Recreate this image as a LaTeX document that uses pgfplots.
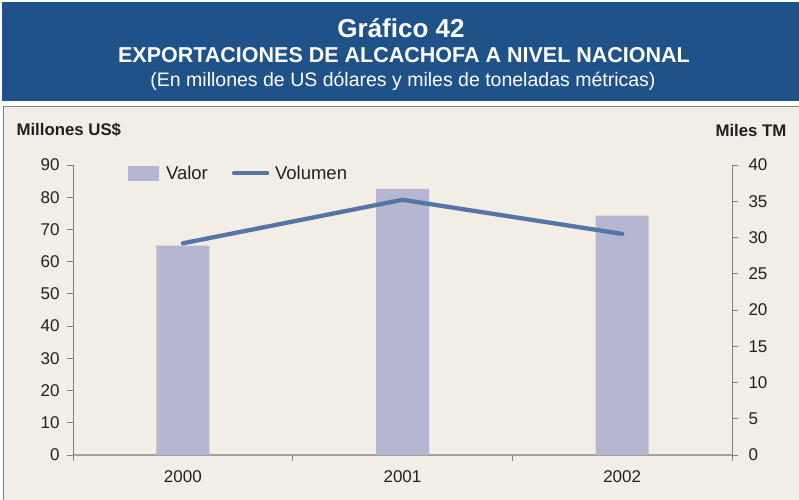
\documentclass[border=0pt]{standalone}
\usepackage{fontspec}
\setmainfont{Liberation Sans}
\usepackage{pgfplots}
\pgfplotsset{compat=1.18}
\definecolor{hdr}{RGB}{31,82,137}
\definecolor{bg}{RGB}{242,238,230}
\definecolor{barc}{RGB}{181,183,208}
\definecolor{linec}{RGB}{83,117,168}
\definecolor{axc}{RGB}{128,128,128}
\definecolor{txt}{RGB}{35,31,32}
\begin{document}
\begin{tikzpicture}[x=1pt,y=1pt]
\useasboundingbox (0,0) rectangle (799,499);
\clip (0,0) rectangle (799,499);
\fill[white] (0,0) rectangle (799,499);
\fill[hdr] (2,398) rectangle (801,497);
\filldraw[fill=bg, draw=axc, line width=1.5pt] (3.5,-5) rectangle (805,392.5);
\node[white, font=\bfseries\fontsize{26}{30}\selectfont] at (401,471) {Gráfico 42};
\node[white, font=\bfseries\fontsize{21.5}{25}\selectfont] at (404,444) {EXPORTACIONES DE ALCACHOFA A NIVEL NACIONAL};
\node[white, font=\fontsize{19.5}{23}\selectfont] at (403,418) {(En millones de US dólares y miles de toneladas métricas)};
\node[txt, anchor=west, font=\bfseries\fontsize{16.8}{19}\selectfont] at (13,369) {Millones US\$};
\node[txt, anchor=east, font=\bfseries\fontsize{16.8}{19}\selectfont] at (790,369) {Miles TM};
\begin{axis}[
  at={(73pt,44pt)}, anchor=south west, scale only axis,
  width=659pt, height=290pt,
  xmin=-0.5, xmax=2.5, ymin=0, ymax=90,
  ytick={0,10,...,90},
  axis x line*=bottom, axis y line*=left,
  axis line style={axc, line width=1pt},
  x axis line style={color=axc!75, line width=1.8pt},
  xtick={-0.5,0.5,1.5,2.5}, xticklabels={,,,},
  extra x ticks={0,1,2}, extra x tick labels={2000,2001,2002},
  extra x tick style={major tick length=0pt, xticklabel style={yshift=-12pt}},
  tick style={axc, line width=0.8pt}, major tick length=6pt,
  tick align=outside,
  ticklabel style={font=\fontsize{17}{20}\selectfont, text=txt},
  yticklabel style={xshift=-4pt},
  /pgf/number format/assume math mode=true,
]
\addplot[ybar, bar width=53pt, fill=barc, draw=none] coordinates {(0,65) (1,82.6) (2,74.3)};
\end{axis}
\begin{axis}[
  at={(73pt,44pt)}, anchor=south west, scale only axis,
  width=659pt, height=290pt,
  xmin=-0.5, xmax=2.5, ymin=0, ymax=40,
  ytick={0,5,...,40},
  axis x line=none, axis y line*=right,
  axis line style={axc, line width=1pt},
  tick style={axc, line width=0.8pt}, major tick length=6pt,
  tick align=outside,
  ticklabel style={font=\fontsize{17}{20}\selectfont, text=txt},
  yticklabel style={xshift=7pt},
  /pgf/number format/assume math mode=true,
  legend style={at={(axis description cs:0.083,0.972)}, anchor=west, draw=none, fill=none, inner sep=0pt,
    font=\fontsize{18.5}{21}\selectfont, text=txt,
    /tikz/every even column/.append style={column sep=22pt}},
  legend columns=2, legend cell align=left,
]
\addlegendimage{legend image code/.code={\fill[barc] (0pt,-7pt) rectangle (30pt,7pt); \path[draw=none,fill=none] (0pt,0pt) -- (36pt,0pt);}}
\addlegendentry{Valor}
\addplot[linec, line width=4.3pt, line cap=round, line join=round,
  legend image code/.code={\draw[linec, line width=4.3pt, line cap=round] (2pt,0pt) -- (35pt,0pt); \path[draw=none,fill=none] (0pt,0pt) -- (41pt,0pt);}]
  coordinates {(0,29.2) (1,35.2) (2,30.5)};
\addlegendentry{Volumen}
\end{axis}
\end{tikzpicture}
\end{document}
